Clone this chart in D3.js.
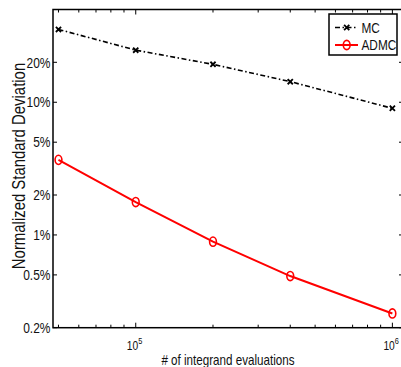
<!DOCTYPE html>
<html><head><meta charset="utf-8">
<script src="https://cdn.jsdelivr.net/npm/d3@7"></script>
<style>html,body{margin:0;padding:0;background:#fff;} svg{display:block;}</style>
</head><body>
<script>
const evals = [5e4, 1e5, 2e5, 4e5, 1e6];
const mcValues = [0.354, 0.247, 0.193, 0.143, 0.090];
const admcValues = [0.0368, 0.0177, 0.0089, 0.0049, 0.00256];
const yTickValues = [0.002, 0.005, 0.01, 0.02, 0.05, 0.1, 0.2];
const yTickLabels = ["0.2%", "0.5%", "1%", "2%", "5%", "10%", "20%"];
const xMajorTicks = [1e5, 1e6];
const xMajorExps = ["5", "6"];
const xMinorTicks = [5e4, 6e4, 7e4, 8e4, 9e4, 2e5, 3e5, 4e5, 5e5, 6e5, 7e5, 8e5, 9e5];
const seriesNames = ["MC", "ADMC"];

const W = 401, H = 367;
const L = 53, R = 403, T = 9.5, B = 327.7;
const NX = 0.82; // narrow font factor
const FONT = "'Liberation Sans', Arial, Helvetica, sans-serif";

const svg = d3.select("body").append("svg").attr("width", W).attr("height", H);
const x = d3.scaleLog().domain([47600, 1.1e6]).range([L, R]);
const y = d3.scaleLog().domain([0.002, 0.5]).range([B, T]);

const g = svg.append("g");

// ticks (inward, all four sides)
const tickG = g.append("g").attr("stroke", "#000").attr("stroke-width", 1);
xMinorTicks.forEach(v => {
  const px = x(v);
  tickG.append("line").attr("x1", px).attr("x2", px).attr("y1", B).attr("y2", B - 3);
  tickG.append("line").attr("x1", px).attr("x2", px).attr("y1", T).attr("y2", T + 3);
});
xMajorTicks.forEach(v => {
  const px = x(v);
  tickG.append("line").attr("x1", px).attr("x2", px).attr("y1", B).attr("y2", B - 5);
  tickG.append("line").attr("x1", px).attr("x2", px).attr("y1", T).attr("y2", T + 5);
});
yTickValues.forEach(v => {
  const py = y(v);
  tickG.append("line").attr("x1", L).attr("x2", L + 4).attr("y1", py).attr("y2", py);
  tickG.append("line").attr("x1", R).attr("x2", R - 4).attr("y1", py).attr("y2", py);
});

// box
g.append("rect").attr("x", L).attr("y", T).attr("width", R - L).attr("height", B - T)
  .attr("fill", "none").attr("stroke", "#000").attr("stroke-width", 1.5);

// y tick labels
yTickValues.forEach((v, i) => {
  g.append("text")
    .attr("transform", `translate(${L - 2.5},${y(v) + 5.2}) scale(${NX},1)`)
    .attr("text-anchor", "end").attr("font-family", FONT).attr("font-size", 14.6)
    .attr("fill", "#111").text(yTickLabels[i]);
});

// x tick labels 10^n
xMajorTicks.forEach((v, i) => {
  const t = g.append("text")
    .attr("transform", `translate(${x(v) - 9},${349.5}) scale(${NX},1)`)
    .attr("font-family", FONT).attr("font-size", 12.5).attr("fill", "#111");
  t.append("tspan").text("10");
  t.append("tspan").attr("dy", -6).attr("font-size", 9).text(xMajorExps[i]);
});

// axis labels
g.append("text")
  .attr("transform", `translate(${228},${364.5}) scale(${NX},1)`)
  .attr("text-anchor", "middle").attr("font-family", FONT).attr("font-size", 14.2)
  .attr("fill", "#111").text("# of integrand evaluations");
g.append("text")
  .attr("transform", `translate(${25},${166}) rotate(-90) scale(${NX},1)`)
  .attr("text-anchor", "middle").attr("font-family", FONT).attr("font-size", 18.2)
  .attr("fill", "#111").text("Normalized Standard Deviation");

// lines
const line = d3.line().x((d, i) => x(evals[i])).y(d => y(d));
g.append("path").datum(mcValues).attr("d", line).attr("fill", "none")
  .attr("stroke", "#000").attr("stroke-width", 1.6).attr("stroke-dasharray", "5,2.5,1.5,2.5");
g.append("path").datum(admcValues).attr("d", line).attr("fill", "none")
  .attr("stroke", "#ff0000").attr("stroke-width", 2);

function xMarker(sel, cx, cy) {
  const s = 2.6;
  sel.append("path").attr("d", `M${cx - s},${cy - s}L${cx + s},${cy + s}M${cx - s},${cy + s}L${cx + s},${cy - s}`)
    .attr("stroke", "#000").attr("stroke-width", 1.8).attr("fill", "none");
}
function oMarker(sel, cx, cy) {
  sel.append("ellipse").attr("cx", cx).attr("cy", cy).attr("rx", 3.4).attr("ry", 4.6)
    .attr("stroke", "#ff0000").attr("stroke-width", 1.6).attr("fill", "none");
}
mcValues.forEach((v, i) => xMarker(g, x(evals[i]), y(v)));
admcValues.forEach((v, i) => oMarker(g, x(evals[i]), y(v)));

// legend
const lg = g.append("g");
lg.append("rect").attr("x", 329).attr("y", 14).attr("width", 68).attr("height", 41)
  .attr("fill", "#fff").attr("stroke", "#000").attr("stroke-width", 1.5);
const legY = [27.5, 45];
lg.append("line").attr("x1", 335).attr("x2", 358).attr("y1", legY[0]).attr("y2", legY[0])
  .attr("stroke", "#000").attr("stroke-width", 1.6).attr("stroke-dasharray", "5,2.5,1.5,2.5");
xMarker(lg, 346.7, legY[0]);
lg.append("line").attr("x1", 335).attr("x2", 358).attr("y1", legY[1]).attr("y2", legY[1])
  .attr("stroke", "#ff0000").attr("stroke-width", 2);
oMarker(lg, 346.7, legY[1]);
seriesNames.forEach((n, i) => {
  lg.append("text").attr("transform", `translate(361.5,${legY[i] + 5.2}) scale(${NX},1)`)
    .attr("font-family", FONT).attr("font-size", 14.4).attr("fill", "#111").text(n);
});
</script>
</body></html>
